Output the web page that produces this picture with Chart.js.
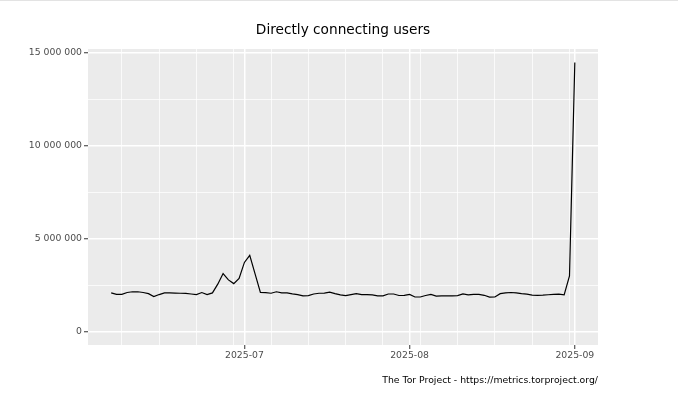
<!DOCTYPE html>
<html>
<head>
<meta charset="utf-8">
<script src="https://cdn.jsdelivr.net/npm/chart.js@4"></script>
<style>
  html, body { margin: 0; padding: 0; background: #ffffff; }
  #wrap { width: 678px; height: 393px; position: relative; }
  canvas { display: block; }
</style>
</head>
<body>
<div id="wrap"><canvas id="c" width="678" height="393"></canvas></div>
<script>
const chartTitle = 'Directly connecting users';
const captionText = 'The Tor Project - https://metrics.torproject.org/';

const dates = [
  '2025-06-06','2025-06-07','2025-06-08','2025-06-09','2025-06-10','2025-06-11','2025-06-12','2025-06-13','2025-06-14','2025-06-15',
  '2025-06-16','2025-06-17','2025-06-18','2025-06-19','2025-06-20','2025-06-21','2025-06-22','2025-06-23','2025-06-24','2025-06-25',
  '2025-06-26','2025-06-27','2025-06-28','2025-06-29','2025-06-30','2025-07-01','2025-07-02','2025-07-03','2025-07-04','2025-07-05',
  '2025-07-06','2025-07-07','2025-07-08','2025-07-09','2025-07-10','2025-07-11','2025-07-12','2025-07-13','2025-07-14','2025-07-15',
  '2025-07-16','2025-07-17','2025-07-18','2025-07-19','2025-07-20','2025-07-21','2025-07-22','2025-07-23','2025-07-24','2025-07-25',
  '2025-07-26','2025-07-27','2025-07-28','2025-07-29','2025-07-30','2025-07-31','2025-08-01','2025-08-02','2025-08-03','2025-08-04',
  '2025-08-05','2025-08-06','2025-08-07','2025-08-08','2025-08-09','2025-08-10','2025-08-11','2025-08-12','2025-08-13','2025-08-14',
  '2025-08-15','2025-08-16','2025-08-17','2025-08-18','2025-08-19','2025-08-20','2025-08-21','2025-08-22','2025-08-23','2025-08-24',
  '2025-08-25','2025-08-26','2025-08-27','2025-08-28','2025-08-29','2025-08-30','2025-08-31','2025-09-01'
];

const users = [
  2080000, 2000000, 2000000, 2100000, 2140000, 2140000, 2100000, 2040000, 1880000, 1990000,
  2080000, 2080000, 2070000, 2060000, 2050000, 2020000, 1990000, 2100000, 1990000, 2080000,
  2550000, 3120000, 2780000, 2580000, 2860000, 3720000, 4100000, 3100000, 2100000, 2090000,
  2060000, 2140000, 2080000, 2080000, 2030000, 1990000, 1920000, 1930000, 2020000, 2060000,
  2070000, 2120000, 2040000, 1970000, 1930000, 1990000, 2040000, 1990000, 1990000, 1970000,
  1920000, 1920000, 2020000, 2020000, 1940000, 1950000, 2000000, 1860000, 1860000, 1940000,
  2000000, 1910000, 1920000, 1920000, 1920000, 1930000, 2030000, 1970000, 2000000, 2000000,
  1950000, 1850000, 1860000, 2040000, 2080000, 2100000, 2080000, 2040000, 2010000, 1960000,
  1950000, 1960000, 1980000, 2000000, 2010000, 1970000, 3000000, 14480000
];

const xMajorDates = ['2025-07-01', '2025-08-01', '2025-09-01'];
const xMajorLabels = ['2025-07', '2025-08', '2025-09'];
const xMinorDates = ['2025-06-08','2025-06-15','2025-06-22','2025-06-29','2025-07-06','2025-07-13','2025-07-20',
                     '2025-07-27','2025-08-03','2025-08-10','2025-08-17','2025-08-24','2025-08-31'];
const yMajorTicks = [0, 5000000, 10000000, 15000000];
const yMinorTicks = [2500000, 7500000, 12500000];

function dayNum(s) {
  const p = s.split('-').map(Number);
  return Date.UTC(p[0], p[1] - 1, p[2]) / 86400000;
}
function fmtSpace(v) {
  return String(Math.round(v)).replace(/\B(?=(\d{3})+(?!\d))/g, ' ');
}

const points = dates.map((d, i) => ({ x: dayNum(d), y: users[i] }));
const xs = points.map(p => p.x);
const xMin0 = Math.min(...xs), xMax0 = Math.max(...xs);
const xPad = (xMax0 - xMin0) * 0.05;
const yMin0 = Math.min(0, ...users), yMax0 = Math.max(...users);
const yPad = (yMax0 - yMin0) * 0.05;

const xMajorVals = xMajorDates.map(dayNum);
const xMinorVals = xMinorDates.map(dayNum);
const xLabelMap = {};
xMajorVals.forEach((v, i) => { xLabelMap[v] = xMajorLabels[i]; });
const isXMajor = v => xMajorVals.includes(v);
const isYMajor = v => yMajorTicks.includes(v);

const FONT = "'DejaVu Sans', 'Liberation Sans', sans-serif";

const panelBg = {
  id: 'panelBg',
  beforeDraw(chart) {
    const { ctx, chartArea: a } = chart;
    ctx.save();
    ctx.fillStyle = '#EBEBEB';
    ctx.fillRect(a.left, a.top, a.right - a.left, a.bottom - a.top);
    // faint page rule at top
    ctx.fillStyle = '#E3E3E3';
    ctx.fillRect(0, 0, chart.width, 1);
    ctx.restore();
  },
  afterDraw(chart) {
    const { ctx, chartArea: a } = chart;
    ctx.save();
    ctx.fillStyle = '#000000';
    ctx.textBaseline = 'middle';
    ctx.textAlign = 'center';
    ctx.font = "13.7px " + FONT;
    ctx.fillText(chartTitle, (a.left + a.right) / 2, 30);
    ctx.textAlign = 'right';
    ctx.font = "9.3px " + FONT;
    ctx.fillText(captionText, a.right, 381);
    ctx.restore();
  }
};

new Chart(document.getElementById('c'), {
  type: 'line',
  data: {
    datasets: [{
      data: points,
      borderColor: '#000000',
      borderWidth: 1.2,
      pointRadius: 0,
      tension: 0,
      fill: false
    }]
  },
  options: {
    responsive: false,
    animation: false,
    devicePixelRatio: 1,
    layout: { padding: { left: 0, right: 80, top: 49, bottom: 0 } },
    plugins: { legend: { display: false }, tooltip: { enabled: false }, title: { display: false } },
    scales: {
      x: {
        type: 'linear',
        min: xMin0 - xPad,
        max: xMax0 + xPad,
        afterBuildTicks(scale) {
          scale.ticks = xMinorVals.concat(xMajorVals).sort((a, b) => a - b).map(v => ({ value: v }));
        },
        afterFit(scale) { scale.height = 48; },
        border: { display: false },
        grid: {
          drawOnChartArea: true,
          drawTicks: true,
          tickLength: 4,
          color: '#FFFFFF',
          lineWidth: ctx => (ctx.tick && isXMajor(ctx.tick.value)) ? 1.5 : 0.75,
          tickColor: ctx => (ctx.tick && isXMajor(ctx.tick.value)) ? '#333333' : 'rgba(0,0,0,0)',
          tickWidth: 1
        },
        ticks: {
          autoSkip: false,
          maxRotation: 0,
          minRotation: 0,
          padding: 1,
          color: '#4D4D4D',
          font: { family: FONT, size: 9.3 },
          callback: v => xLabelMap[v] || ''
        }
      },
      y: {
        type: 'linear',
        min: yMin0 - yPad,
        max: yMax0 + yPad,
        afterBuildTicks(scale) {
          scale.ticks = yMajorTicks.concat(yMinorTicks).sort((a, b) => a - b).map(v => ({ value: v }));
        },
        afterFit(scale) { scale.width = 88; },
        border: { display: false },
        grid: {
          drawOnChartArea: true,
          drawTicks: true,
          tickLength: 4,
          color: '#FFFFFF',
          lineWidth: ctx => (ctx.tick && isYMajor(ctx.tick.value)) ? 1.5 : 0.75,
          tickColor: ctx => (ctx.tick && isYMajor(ctx.tick.value)) ? '#333333' : 'rgba(0,0,0,0)',
          tickWidth: 1
        },
        ticks: {
          autoSkip: false,
          padding: 2,
          color: '#4D4D4D',
          font: { family: FONT, size: 9.3 },
          callback: v => isYMajor(v) ? fmtSpace(v) : ''
        }
      }
    }
  },
  plugins: [panelBg]
});
</script>
</body>
</html>
